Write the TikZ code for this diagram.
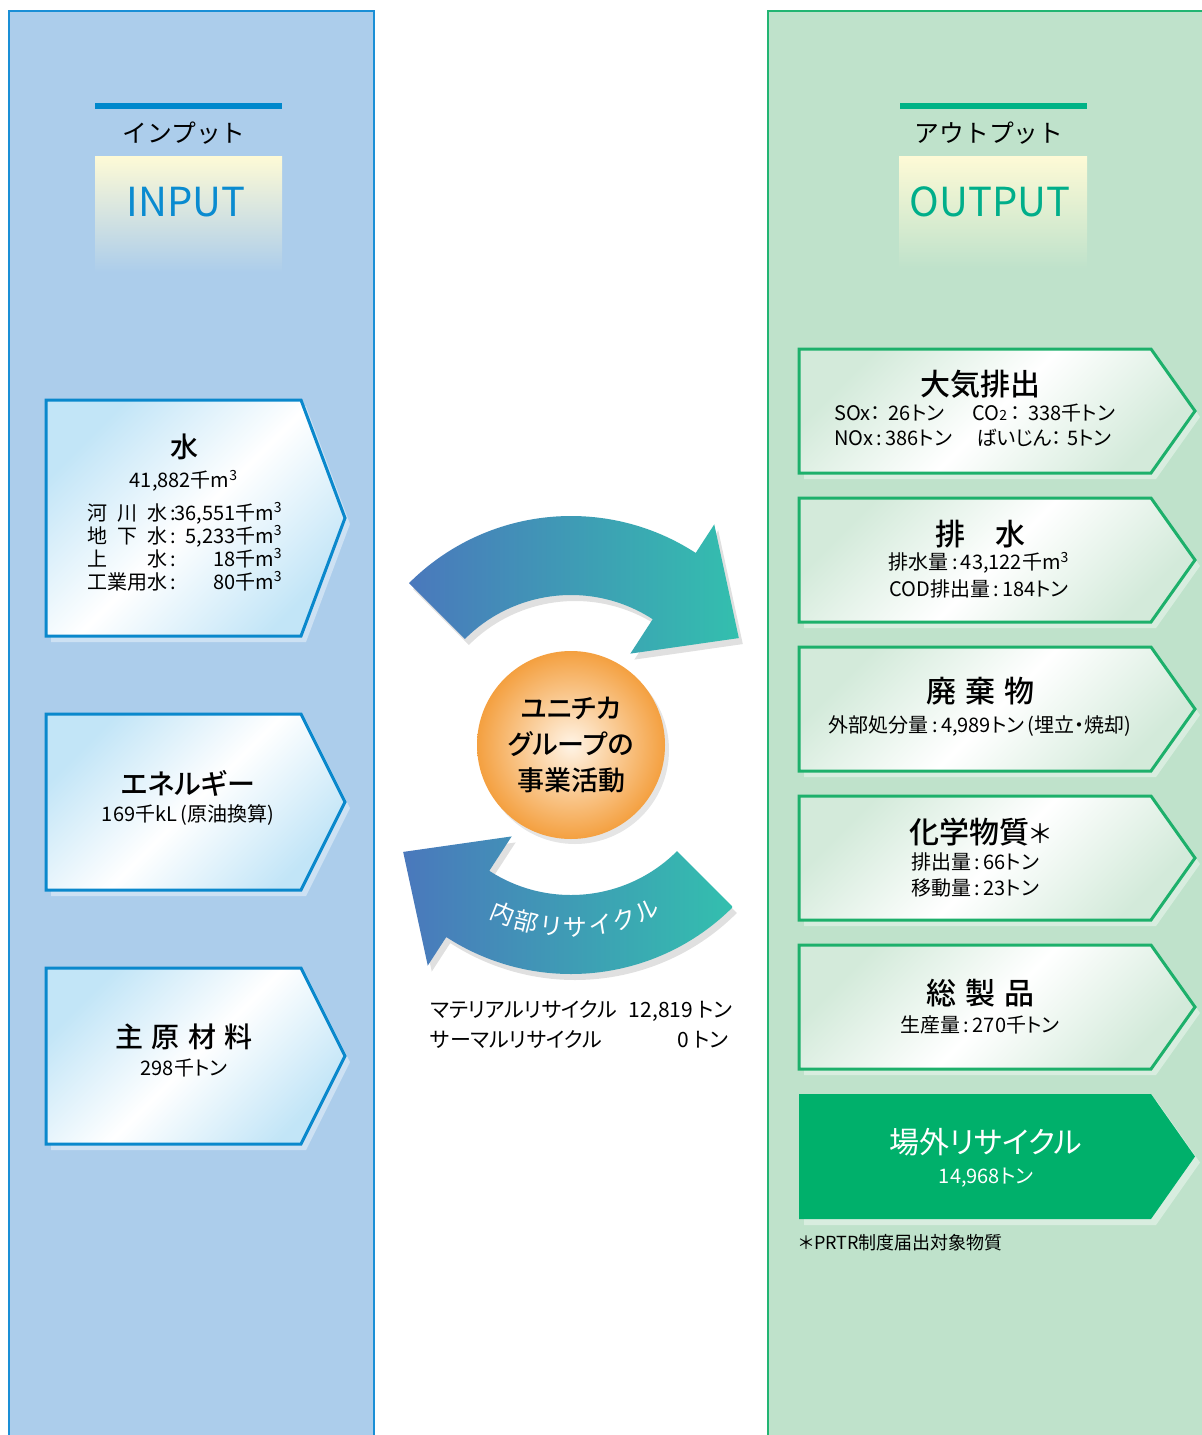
\documentclass[tikz,border=0pt]{standalone}
\usepackage{fontspec}
\setmainfont{Noto Sans CJK JP}[RawFeature=+palt, BoldFont={Noto Sans CJK JP Medium}, BoldFeatures={RawFeature=+palt}]
\newfontfamily\plainjp{Noto Sans CJK JP}
\definecolor{pblue}{HTML}{ACCDEB}
\definecolor{pblueline}{HTML}{1A8FD6}
\definecolor{pgreen}{HTML}{BFE2CB}
\definecolor{pgreenline}{HTML}{22B573}
\definecolor{inline}{HTML}{0A88CC}
\definecolor{inlight}{HTML}{C2E5F7}
\definecolor{outline}{HTML}{1DB06B}
\definecolor{outlight}{HTML}{D3EADA}
\definecolor{solidgreen}{HTML}{00B06B}
\definecolor{barblue}{HTML}{0088CC}
\definecolor{bargreen}{HTML}{00B386}
\definecolor{inputtxt}{HTML}{0A8BD0}
\definecolor{outputtxt}{HTML}{00AE8A}
\definecolor{hdryellow}{HTML}{FEFAD6}
\definecolor{arrowblue}{HTML}{4A78BC}
\definecolor{arrowteal}{HTML}{33BFAE}
\definecolor{orangeedge}{HTML}{F4A040}
\definecolor{orangecenter}{HTML}{FFF4E6}
\newcommand\InPent[2]{(46,#1) -- (301,#1) -- (345,{(#1+#2)/2}) -- (301,#2) -- (46,#2) -- cycle}
\newcommand\OutPent[2]{(799,#1) -- (1151,#1) -- (1195,{(#1+#2)/2}) -- (1151,#2) -- (799,#2) -- cycle}
\begin{document}
\begin{tikzpicture}[x=0.5pt,y=-0.5pt,
  every node/.style={inner sep=0pt},
  ttl/.style={font=\fontsize{14}{16}\selectfont\bfseries},
  ottl/.style={font=\fontsize{15}{17}\selectfont\bfseries},
  sml/.style={font=\fontsize{10}{12}\selectfont},
  hdr/.style={font=\plainjp\fontsize{12.4}{14}\selectfont},
  big/.style={font=\fontsize{20}{22}\selectfont},
  inbox/.style={draw=inline, line width=1.5pt, top color=inlight, bottom color=inlight, middle color=white, shading angle=45},
  outbox/.style={draw=outline, line width=1.5pt, top color=outlight, bottom color=outlight, middle color=white, shading angle=45},
  boxshadow/.style={fill=white, opacity=0.4, shift={(5,6)}},
  arrowfill/.style={left color=arrowblue, right color=arrowteal},
  arrowshadow/.style={fill=black, opacity=0.12, shift={(4,6)}}]
\useasboundingbox (0,0) rectangle (1202,1435);
\fill[white] (0,0) rectangle (1202,1435);
% panels
\fill[pblue] (9,11) rectangle (374,1436);
\draw[pblueline, line width=1pt] (9,1436) -- (9,11) -- (374,11) -- (374,1436);
\fill[pgreen] (768,11) rectangle (1203,1436);
\draw[pgreenline, line width=1pt] (768,1436) -- (768,11) -- (1203,11);
% input header
\fill[barblue] (95,103) rectangle (282,109);
\node[hdr] (injp) at (184,133) {インプット};
\shade[top color=hdryellow, bottom color=pblue] (95,156) rectangle (282,272);
\node[big, text=inputtxt] (inen) at (186,202) {INPUT};
% output header
\fill[bargreen] (900,103) rectangle (1087,109);
\node[hdr] (outjp) at (989,133) {アウトプット};
\shade[top color=hdryellow, bottom color=pgreen] (899,156) rectangle (1087,268);
\node[big, text=outputtxt] (outen) at (990,202) {OUTPUT};
% input boxes
\fill[boxshadow] \InPent{400}{636};
\shade[inbox] \InPent{400}{636};
\fill[boxshadow] \InPent{714}{890};
\shade[inbox] \InPent{714}{890};
\fill[boxshadow] \InPent{968}{1144};
\shade[inbox] \InPent{968}{1144};
% water
\node[ttl] (wt) at (184,447) {水};
\node[sml] (wtot) at (184,481) {41,882千m\textsuperscript{3}};
\foreach \lab/\val/\yy [count=\i] in {{河\hfill 川\hfill 水}/{36,551千m\textsuperscript{3}}/513,
  {地\hfill 下\hfill 水}/{5,233千m\textsuperscript{3}}/536,
  {上\hfill 水}/{18千m\textsuperscript{3}}/559,
  {工業用水}/{80千m\textsuperscript{3}}/582}{
  \node[sml, anchor=base west] (wl\i) at (87,\yy+7) {\makebox[4em][s]{\lab}\,:};
  \node[sml, anchor=base east] (wv\i) at (283,\yy+7) {\val};
}
% energy
\node[ttl] (en) at (188,783) {エネルギー};
\node[sml] (env) at (188,815) {169千kL\,(原油換算)};
% materials
\node[ttl] (mat) at (184,1037) {主\hspace{0.3em}原\hspace{0.3em}材\hspace{0.3em}料};
\node[sml] (matv) at (184,1068) {298千トン};
% output boxes
\fill[boxshadow] \OutPent{349}{473};
\shade[outbox] \OutPent{349}{473};
\fill[boxshadow] \OutPent{498}{622};
\shade[outbox] \OutPent{498}{622};
\fill[boxshadow] \OutPent{647}{771};
\shade[outbox] \OutPent{647}{771};
\fill[boxshadow] \OutPent{796}{920};
\shade[outbox] \OutPent{796}{920};
\fill[boxshadow] \OutPent{945}{1069};
\shade[outbox] \OutPent{945}{1069};
\fill[boxshadow] \OutPent{1094}{1219};
\fill[solidgreen] \OutPent{1094}{1219};
% air
\node[ottl] (air) at (980,384) {大気排出};
\node[sml, anchor=base west] (sox) at (834,420) {SOx：\hspace{0.4em}26トン};
\node[sml, anchor=base west] (co2) at (972,420) {CO{\fontsize{7}{7}\selectfont 2}\,：\hspace{0.4em}338千トン};
\node[sml, anchor=base west] (nox) at (834,445) {NOx\,:\,386トン};
\node[sml, anchor=base west] (dust) at (976,445) {ばいじん：\hspace{0.3em}5トン};
% drainage
\node[ottl] (dr) at (980,534) {排\hspace{1em}水};
\node[sml] (dr1) at (979,563) {排水量\,:\,43,122千m\textsuperscript{3}};
\node[sml] (dr2) at (979,589) {COD排出量\,:\,184トン};
% waste
\node[ottl] (ws) at (980,691) {廃\hspace{0.3em}棄\hspace{0.3em}物};
\node[sml] (ws1) at (980,726) {外部処分量\,:\,4,989トン\,(埋立・焼却)};
% chemicals
\node[ottl] (ch) at (980,832) {化学物質{\mdseries\fontsize{13}{15}\selectfont ＊}};
\node[sml, anchor=base west] (ch1) at (911,869) {排出量\,:\,66トン};
\node[sml, anchor=base west] (ch2) at (911,895) {移動量\,:\,23トン};
% products
\node[ottl] (pr) at (980,993) {総\hspace{0.3em}製\hspace{0.3em}品};
\node[sml] (pr1) at (980,1025) {生産量\,:\,270千トン};
% external recycle
\node[font=\fontsize{15}{17}\selectfont, text=white] (ex) at (986,1142) {場外リサイクル};
\node[sml, text=white] (ex1) at (986,1178) {14,968トン};
% footnote
\node[font=\fontsize{9}{11}\selectfont, anchor=base west] (fn) at (799,1249) {＊PRTR制度届出対象物質};
% cycle arrows
\begin{scope}[shift={(571,745)}]
\fill[arrowshadow] (-135:229) arc[start angle=-135,end angle=-57,radius=229] -- (-57:263) -- (-32.5:199) -- (-57:109) -- (-57:150) arc[start angle=-57,end angle=-135,radius=150] -- cycle;
\shade[arrowfill] (-135:229) arc[start angle=-135,end angle=-57,radius=229] -- (-57:263) -- (-32.5:199) -- (-57:109) -- (-57:150) arc[start angle=-57,end angle=-135,radius=150] -- cycle;
\fill[arrowshadow] (45:229) arc[start angle=45,end angle=123,radius=229] -- (123:263) -- (147.5:199) -- (123:109) -- (123:150) arc[start angle=123,end angle=45,radius=150] -- cycle;
\shade[arrowfill] (45:229) arc[start angle=45,end angle=123,radius=229] -- (123:263) -- (147.5:199) -- (123:109) -- (123:150) arc[start angle=123,end angle=45,radius=150] -- cycle;
\foreach \ch [count=\i from 0] in {内,部,リ,サ,イ,ク,ル}{
  \pgfmathsetmacro\ang{112-\i*7.8}
  \node[font=\fontsize{12}{14}\selectfont, text=white, rotate=90-\ang] (rc\i) at (\ang:182) {\ch};
}
\end{scope}
% core circle
\fill[black, opacity=0.1] (575,750) circle[radius=94];
\node[circle, minimum size=94pt, inner color=orangecenter, outer color=orangeedge,
  font=\fontsize{13.5}{18}\selectfont\bfseries, align=center] (core) at (571,745) {ユニチカ\\グループの\\事業活動};
% recycle amounts
\node[font=\fontsize{10.5}{12}\selectfont, anchor=base west] (mr) at (430,1017) {マテリアルリサイクル};
\node[font=\fontsize{10.5}{12}\selectfont, anchor=base east] (mrv) at (733,1017) {12,819 トン};
\node[font=\fontsize{10.5}{12}\selectfont, anchor=base west] (tr) at (430,1047) {サーマルリサイクル};
\node[font=\fontsize{10.5}{12}\selectfont, anchor=base east] (trv) at (729,1047) {0 トン};
\end{tikzpicture}
\end{document}
